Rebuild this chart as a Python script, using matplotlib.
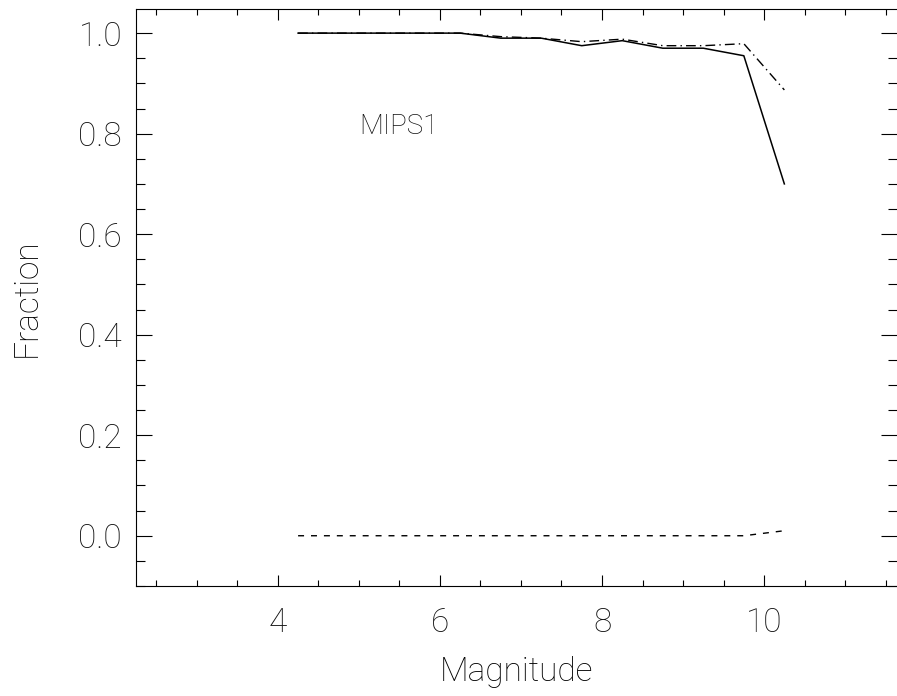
import matplotlib
matplotlib.use("Agg")
import matplotlib.pyplot as plt
from matplotlib.ticker import MultipleLocator

# magnitude bins
mag = [4.25, 4.75, 5.25, 5.75, 6.25, 6.75, 7.25, 7.75, 8.25, 8.75, 9.25, 9.75, 10.25]
# fractions
frac_solid = [1.0, 1.0, 1.0, 1.0, 1.0, 0.990, 0.990, 0.975, 0.985, 0.970, 0.970, 0.955, 0.700]
frac_dashdot = [1.0, 1.0, 1.0, 1.0, 1.0, 0.993, 0.990, 0.983, 0.988, 0.975, 0.975, 0.979, 0.887]
frac_dashed = [0.0, 0.0, 0.0, 0.0, 0.0, 0.0, 0.0, 0.0, 0.0, 0.0, 0.0, 0.0, 0.010]

plt.rcParams['font.family'] = ['Roboto', 'DejaVu Sans']
plt.rcParams['font.weight'] = 'light'
plt.rcParams['lines.scale_dashes'] = False
plt.rcParams['text.color'] = '#111111'

fig = plt.figure(figsize=(8.97, 6.96), dpi=100)
ax = fig.add_axes([136 / 897, 110 / 696, 761 / 897, 577 / 696])

ax.plot(mag, frac_solid, color='black', lw=1.1)
ax.plot(mag, frac_dashdot, color='black', lw=1.0, dashes=(7, 3, 1, 3))
ax.plot(mag, frac_dashed, color='black', lw=1.0, dashes=(4.3, 5))

ax.text(5.0, 0.8, 'MIPS1', fontsize=20, ha='left', va='baseline',
        fontweight='light')

ax.set_xlim(2.25, 11.64)
ax.set_ylim(-0.1, 1.048)
ax.xaxis.set_major_locator(MultipleLocator(2))
ax.xaxis.set_minor_locator(MultipleLocator(0.5))
ax.yaxis.set_major_locator(MultipleLocator(0.2))
ax.yaxis.set_minor_locator(MultipleLocator(0.05))
ax.set_yticks([0.0, 0.2, 0.4, 0.6, 0.8, 1.0])
ax.set_yticklabels(['0.0', '0.2', '0.4', '0.6', '0.8', '1.0'], fontweight='light')
ax.set_xticks([4, 6, 8, 10])
ax.set_xticklabels(['4', '6', '8', '10'], fontweight='light')

ax.tick_params(axis='x', which='major', direction='in', length=8, width=0.8,
               top=True, bottom=True, labelsize=24, pad=15, labelcolor='#111111')
ax.tick_params(axis='x', which='minor', direction='in', length=4.3, width=0.8,
               top=True, bottom=True)
ax.tick_params(axis='y', which='major', direction='in', length=11.5, width=0.8,
               left=True, right=True, labelsize=24, pad=10, labelcolor='#111111')
ax.tick_params(axis='y', which='minor', direction='in', length=6.5, width=0.8,
               left=True, right=True)
ax.spines['right'].set_visible(False)
for s in ['left', 'top', 'bottom']:
    ax.spines[s].set_linewidth(0.8)

ax.set_xlabel('Magnitude', fontsize=24, labelpad=12, fontweight='light')
ax.set_ylabel('Fraction', fontsize=24, labelpad=26, fontweight='light')

fig.savefig('out.png', dpi=100)
